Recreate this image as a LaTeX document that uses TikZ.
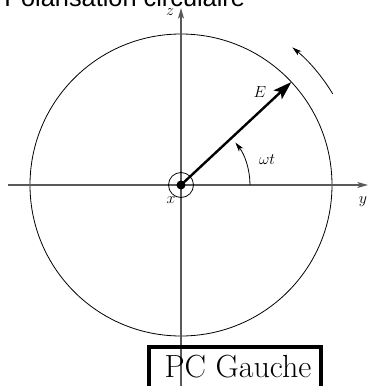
\documentclass[tikz,border=0pt]{standalone}
\usepackage{fontspec}
\newfontfamily\titlefont{Liberation Sans}
\usetikzlibrary{arrows.meta}
\begin{document}
\begin{tikzpicture}[x=0.75pt,y=0.75pt,
  axisline/.style={draw=black!65,line width=0.8pt,-{Stealth[length=8pt,width=4.5pt,inset=2pt]}},
  thinline/.style={draw=black,line width=0.6pt},
  arcarrow/.style={draw=black,line width=0.6pt,-{Stealth[length=7pt,width=4pt,inset=1.8pt]}},
  mathlabel/.style={inner sep=0pt,font=\fontsize{12}{14}\selectfont},
  vecline/.style={draw=black,line width=1.8pt,-{Stealth[length=14pt,width=9pt,inset=3pt]}}]
\useasboundingbox (-181,-201) rectangle (188,185);
\coordinate (O) at (0,0);
\coordinate (xl) at (-173,0);
\coordinate (xr) at (187,0);
\coordinate (zt) at (0,177);
\coordinate (zb) at (0,-215);
\coordinate (Etip) at (43:151);
% title (cut by the top edge)
\node[anchor=base west,inner sep=0pt,font=\titlefont\fontsize{19}{22}\selectfont] (title) at (-177,179) {Polarisation circulaire};
% circle
\draw[thinline] (O) circle[radius=151];
% axes
\draw[axisline] (xl) -- (xr);
\draw[axisline] (zb) -- (zt);
% labels
\node[mathlabel] (zlab) at (-11,173) {$z$};
\node[mathlabel] (ylab) at (182,-17) {$y$};
\node[mathlabel] (xlab) at (-10,-15) {$x$};
% centre symbol
\draw[thinline] (O) circle[radius=12.5];
\fill (O) circle[radius=4.5];
% E vector
\draw[vecline] (O) -- (Etip);
\node[mathlabel] (Elab) at (79,93) {$E$};
% angle
\draw[arcarrow] (69,0) arc[start angle=0,end angle=38,radius=69];
\node[mathlabel] (wt) at (86,25) {$\omega t$};
% rotation arrow
\draw[arcarrow] (31:177) arc[start angle=31,end angle=51,radius=177];
% box
\draw[line width=2.6pt] (-32,-215) -- (-32,-162) -- (140,-162) -- (140,-215);
\node[anchor=base,inner sep=0pt,font=\fontsize{24}{28}\selectfont] (pc) at (57,-192) {PC Gauche};
\end{tikzpicture}
\end{document}
